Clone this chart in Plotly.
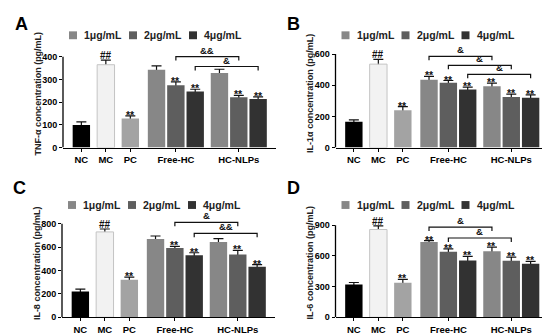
import plotly.graph_objects as go

W, H = 550, 334
FONT = "Liberation Sans, Arial, sans-serif"

# ---------------- data ----------------
categories = ["NC", "MC", "PC", "Free-HC", "HC-NLPs"]
doses = ["1μg/mL", "2μg/mL", "4μg/mL"]

# Panel A: TNF-α
tnf_ctrl = [100, 365, 128]
tnf_ctrl_err = [13, 20, 12]
tnf_free = [343, 275, 247]
tnf_free_err = [17, 14, 10]
tnf_nlp = [328, 222, 214]
tnf_nlp_err = [17, 8, 9]
tnf_ctrl_sig = ["", "##", "**"]
tnf_free_sig = ["", "**", "**"]
tnf_nlp_sig = ["", "**", "**"]
tnf_brackets = [(("Free-HC", 1), ("HC-NLPs", 1), 401, "&&"),
                (("Free-HC", 2), ("HC-NLPs", 2), 357, "&")]

# Panel B: IL-1α
il1_ctrl = [165, 535, 240]
il1_ctrl_err = [13, 30, 22]
il1_free = [435, 415, 372]
il1_free_err = [22, 15, 15]
il1_nlp = [393, 325, 320]
il1_nlp_err = [20, 18, 18]
il1_ctrl_sig = ["", "##", "**"]
il1_free_sig = ["**", "**", "**"]
il1_nlp_sig = ["**", "**", "**"]
il1_brackets = [(("Free-HC", 0), ("HC-NLPs", 0), 585, "&"),
                (("Free-HC", 1), ("HC-NLPs", 1), 527, "&"),
                (("Free-HC", 2), ("HC-NLPs", 2), 470, "&")]

# Panel C: IL-8
il8_ctrl = [220, 730, 322]
il8_ctrl_err = [20, 25, 22]
il8_free = [670, 592, 530]
il8_free_err = [25, 15, 22]
il8_nlp = [643, 537, 432]
il8_nlp_err = [30, 35, 18]
il8_ctrl_sig = ["", "##", "**"]
il8_free_sig = ["", "**", "**"]
il8_nlp_sig = ["", "**", "**"]
il8_brackets = [(("Free-HC", 1), ("HC-NLPs", 1), 811, "&"),
                (("Free-HC", 2), ("HC-NLPs", 2), 718, "&&")]

# Panel D: IL-6
il6_ctrl = [320, 858, 338]
il6_ctrl_err = [20, 35, 32]
il6_free = [735, 640, 555]
il6_free_err = [15, 28, 40]
il6_nlp = [645, 553, 524]
il6_nlp_err = [40, 35, 22]
il6_ctrl_sig = ["", "##", "**"]
il6_free_sig = ["**", "**", "**"]
il6_nlp_sig = ["**", "**", "**"]
il6_brackets = [(("Free-HC", 0), ("HC-NLPs", 0), 881, "&"),
                (("Free-HC", 1), ("HC-NLPs", 1), 775, "&")]

# ---------------- styling / layout constants ----------------
ctrl_colors = ["#000000", "#f2f2f2", "#a3a3a3"]
ctrl_lines = ["#000000", "#c4c4c4", "#a3a3a3"]
dose_colors = ["#878787", "#5e5e5e", "#323232"]

ctrl_pos = [0, 1, 2]
group_center = {"Free-HC": 3.86, "HC-NLPs": 6.43}
dose_step = 0.79
bar_w = 0.71
x_range = [-0.75, 7.95]
dom_w = 213.0

panels = [
    dict(letter="A", title="TNF-α concentration (pg/mL)", ctrl=tnf_ctrl, ctrl_err=tnf_ctrl_err,
         free=tnf_free, free_err=tnf_free_err, nlp=tnf_nlp, nlp_err=tnf_nlp_err,
         ctrl_sig=tnf_ctrl_sig, free_sig=tnf_free_sig, nlp_sig=tnf_nlp_sig, brackets=tnf_brackets,
         ticks=[0, 100, 200, 300, 400], xl=55, zero=141.7, top=49.5, lx=5, ly=4),
    dict(letter="B", title="IL-1α concentration (pg/mL)", ctrl=il1_ctrl, ctrl_err=il1_ctrl_err,
         free=il1_free, free_err=il1_free_err, nlp=il1_nlp, nlp_err=il1_nlp_err,
         ctrl_sig=il1_ctrl_sig, free_sig=il1_free_sig, nlp_sig=il1_nlp_sig, brackets=il1_brackets,
         ticks=[0, 200, 400, 600], xl=327.5, zero=141.7, top=46.7, lx=277, ly=4),
    dict(letter="C", title="IL-8 concentration (pg/mL)", ctrl=il8_ctrl, ctrl_err=il8_ctrl_err,
         free=il8_free, free_err=il8_free_err, nlp=il8_nlp, nlp_err=il8_nlp_err,
         ctrl_sig=il8_ctrl_sig, free_sig=il8_free_sig, nlp_sig=il8_nlp_sig, brackets=il8_brackets,
         ticks=[0, 200, 400, 600, 800], xl=54, zero=314, top=219, lx=3, ly=171),
    dict(letter="D", title="IL-6 concentration (pg/mL)", ctrl=il6_ctrl, ctrl_err=il6_ctrl_err,
         free=il6_free, free_err=il6_free_err, nlp=il6_nlp, nlp_err=il6_nlp_err,
         ctrl_sig=il6_ctrl_sig, free_sig=il6_free_sig, nlp_sig=il6_nlp_sig, brackets=il6_brackets,
         ticks=[0, 300, 600, 900], xl=327.5, zero=314, top=220.5, lx=277, ly=171),
]


def px_y(p):
    return 1 - p / H


fig = go.Figure()
shapes = []
annotations = []
layout = {}


def bar_x(cat, k):
    return group_center[cat] + (k - 1) * dose_step


for i, P in enumerate(panels):
    sfx = "" if i == 0 else str(i + 1)
    xa, ya = "x" + sfx, "y" + sfx
    topval = P["ticks"][-1]
    ext_top = P["top"] - 12
    rng_top = topval * (P["zero"] - ext_top) / (P["zero"] - P["top"])
    ppu = (P["zero"] - P["top"]) / topval  # px per unit

    xs, ys, errs, cols, lcols, lws, sigs = [], [], [], [], [], [], []
    for j in range(3):
        xs.append(ctrl_pos[j]); ys.append(P["ctrl"][j]); errs.append(P["ctrl_err"][j])
        cols.append(ctrl_colors[j]); lcols.append(ctrl_lines[j]); lws.append(1 if j == 1 else 0)
        sigs.append(P["ctrl_sig"][j])
    for cat, vals, ers, sg in (("Free-HC", P["free"], P["free_err"], P["free_sig"]),
                               ("HC-NLPs", P["nlp"], P["nlp_err"], P["nlp_sig"])):
        for k in range(3):
            xs.append(bar_x(cat, k)); ys.append(vals[k]); errs.append(ers[k])
            cols.append(dose_colors[k]); lcols.append(dose_colors[k]); lws.append(0)
            sigs.append(sg[k])

    # error bars (underneath), then opaque bars covering the lower half
    fig.add_trace(go.Bar(x=xs, y=ys, width=bar_w, xaxis=xa, yaxis=ya, showlegend=False,
                         marker=dict(color="rgba(0,0,0,0)", line=dict(width=0)),
                         error_y=dict(type="data", array=errs, symmetric=True,
                                      color="#111111", thickness=1.2, width=5),
                         hoverinfo="skip"))
    fig.add_trace(go.Bar(x=xs, y=ys, width=bar_w, xaxis=xa, yaxis=ya, showlegend=False,
                         marker=dict(color=cols, line=dict(color=lcols, width=lws))))

    x0p = P["xl"] / W
    x1p = (P["xl"] + dom_w) / W
    layout["xaxis" + sfx] = dict(domain=[x0p, x1p], range=x_range, anchor=ya,
                                 tickmode="array",
                                 tickvals=ctrl_pos + [group_center["Free-HC"], group_center["HC-NLPs"]],
                                 ticktext=categories, showline=True, linecolor="black", linewidth=1.3,
                                 ticks="outside", ticklen=3, tickwidth=1.2, tickcolor="black",
                                 showgrid=False, zeroline=False,
                                 tickfont=dict(family=FONT, size=9.5, color="black", weight="bold"))
    layout["yaxis" + sfx] = dict(domain=[px_y(P["zero"]), px_y(ext_top)], range=[0, rng_top],
                                 anchor=xa, tickmode="array", tickvals=P["ticks"],
                                 showline=False, ticks="outside", ticklen=3, tickwidth=1.2,
                                 tickcolor="black", showgrid=False, zeroline=False,
                                 tickfont=dict(family=FONT, size=9, color="black", weight="bold"))
    # y axis line only up to top tick
    shapes.append(dict(type="line", xref="paper", yref=ya, x0=x0p, x1=x0p, y0=0, y1=topval,
                       line=dict(color="black", width=1.3)))

    # significance marks
    for x, y, e, s in zip(xs, ys, errs, sigs):
        if not s:
            continue
        if s.startswith("#"):
            annotations.append(dict(x=x, y=y + e, xref=xa, yref=ya, text=s, showarrow=False,
                                    yanchor="bottom", yshift=-3,
                                    font=dict(family=FONT, size=10, color="#111", weight="bold")))
        else:
            annotations.append(dict(x=x, y=y + e, xref=xa, yref=ya, text=s, showarrow=False,
                                    yanchor="middle", yshift=1,
                                    font=dict(family=FONT, size=10.5, color="#111", weight="bold")))

    # brackets
    dy = 4 / ppu
    for (ca, ka), (cb, kb), by, lab in P["brackets"]:
        bx0, bx1 = bar_x(ca, ka), bar_x(cb, kb)
        shapes.append(dict(type="path", xref=xa, yref=ya,
                           path=f"M {bx0},{by - dy} L {bx0},{by} L {bx1},{by} L {bx1},{by - dy}",
                           line=dict(color="#111", width=1.2)))
        annotations.append(dict(x=(bx0 + bx1) / 2, y=by, xref=xa, yref=ya, text=lab,
                                showarrow=False, yanchor="bottom", yshift=-1,
                                font=dict(family=FONT, size=9.5, color="#111", weight="bold")))

    # custom legend
    lyp = P["zero"] - 114
    for k, d in enumerate(doses):
        sx = P["xl"] + 6 + 60 * k
        shapes.append(dict(type="rect", xref="paper", yref="paper",
                           x0=sx / W, x1=(sx + 8) / W, y0=px_y(lyp + 4), y1=px_y(lyp - 4),
                           fillcolor=dose_colors[k], line=dict(width=0)))
        annotations.append(dict(x=(sx + 13) / W, y=px_y(lyp), xref="paper", yref="paper",
                                text=d, showarrow=False, xanchor="left", yanchor="middle",
                                font=dict(family=FONT, size=10.5, color="#222", weight="bold")))

    # y-axis title
    annotations.append(dict(x=(P["xl"] - 25) / W, y=px_y(P["zero"] - 55), xref="paper", yref="paper",
                            text=P["title"], textangle=-90, showarrow=False,
                            xanchor="center", yanchor="middle",
                            font=dict(family=FONT, size=9, color="#222", weight="bold")))
    # panel letter
    annotations.append(dict(x=P["lx"] / W, y=px_y(P["ly"]), xref="paper", yref="paper",
                            text=P["letter"], showarrow=False, xanchor="left", yanchor="top",
                            font=dict(family=FONT, size=18, color="black", weight="bold")))

fig.update_layout(width=W, height=H, margin=dict(l=0, r=0, t=0, b=0),
                  paper_bgcolor="white", plot_bgcolor="white", barmode="overlay",
                  showlegend=False, shapes=shapes, annotations=annotations, **layout)

fig.write_html("out.html")
